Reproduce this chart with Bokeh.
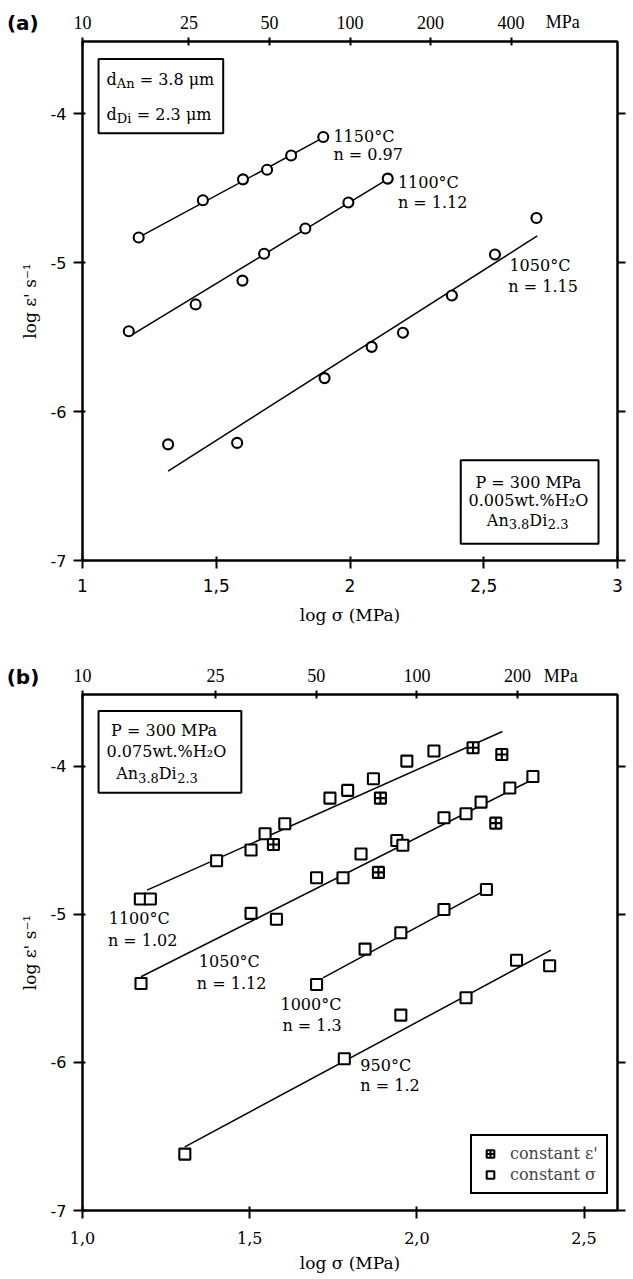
import math
from bokeh.plotting import figure
from bokeh.models import (LinearAxis, FixedTicker, Range1d, Label, BoxAnnotation,
                          Legend, LegendItem)
from bokeh.layouts import column
from bokeh.embed import file_html
from bokeh.resources import INLINE

SERIF = "DejaVu Serif"
SANS = "DejaVu Sans"
TOPF = "Liberation Serif"

# ---------------- data: panel (a) ----------------
a_1150_x = [1.21, 1.45, 1.60, 1.69, 1.78, 1.90]
a_1150_y = [-4.83, -4.58, -4.44, -4.375, -4.28, -4.155]
a_1100_x = [1.173, 1.423, 1.598, 1.679, 1.833, 1.994, 2.141]
a_1100_y = [-5.46, -5.28, -5.12, -4.94, -4.77, -4.595, -4.435]
a_1050_x = [1.32, 1.578, 1.905, 2.081, 2.198, 2.381, 2.542, 2.697]
a_1050_y = [-6.22, -6.21, -5.775, -5.565, -5.47, -5.22, -4.945, -4.70]
a_fit_1150_x = [1.22, 1.90]
a_fit_1150_y = [-4.82, -4.16]
a_fit_1100_x = [1.18, 2.13]
a_fit_1100_y = [-5.49, -4.45]
a_fit_1050_x = [1.32, 2.70]
a_fit_1050_y = [-6.40, -4.82]

# ---------------- data: panel (b) ----------------
b_1100_x = [1.173, 1.203, 1.401, 1.504, 1.546, 1.605, 1.740, 1.793, 1.870, 1.970, 2.051]
b_1100_y = [-4.896, -4.896, -4.637, -4.565, -4.455, -4.387, -4.214, -4.162, -4.083, -3.964, -3.896]
b_1100_ce_x = [1.571, 1.891, 2.168, 2.254]
b_1100_ce_y = [-4.527, -4.214, -3.874, -3.919]
b_1050_x = [1.175, 1.504, 1.58, 1.70, 1.779, 1.833, 1.94, 1.958, 2.081, 2.147, 2.192, 2.278, 2.347]
b_1050_y = [-5.466, -4.993, -5.032, -4.752, -4.752, -4.592, -4.50, -4.532, -4.347, -4.32, -4.241, -4.146, -4.068]
b_1050_ce_x = [1.885, 2.236]
b_1050_ce_y = [-4.716, -4.383]
b_1000_x = [1.70, 1.845, 1.952, 2.081, 2.208]
b_1000_y = [-5.473, -5.234, -5.124, -4.966, -4.831]
b_950_x = [1.306, 1.783, 1.952, 2.147, 2.298, 2.397]
b_950_y = [-6.619, -5.975, -5.68, -5.563, -5.309, -5.347]
b_fit_1100_x = [1.193, 2.256]
b_fit_1100_y = [-4.836, -3.764]
b_fit_1050_x = [1.175, 2.345]
b_fit_1050_y = [-5.421, -4.09]
b_fit_1000_x = [1.719, 2.20]
b_fit_1000_y = [-5.428, -4.842]
b_fit_950_x = [1.306, 2.401]
b_fit_950_y = [-6.57, -5.241]

# ---------------- ticks ----------------
top_a_mpa = [10, 25, 50, 100, 200, 400]
top_b_mpa = [10, 25, 50, 100, 200]
a_xticks = [1, 1.5, 2, 2.5, 3]
a_xlabels = ["1", "1,5", "2", "2,5", "3"]
b_xticks = [1.0, 1.5, 2.0, 2.5]
b_xlabels = ["1,0", "1,5", "2,0", "2,5"]
yticks = [-7, -6, -5, -4]
ylabels = ["-7", "-6", "-5", "-4"]

WIDTH = 633
LEFT = 82

# DejaVu Serif advance widths (em) for composing sub-scripted labels
W = {" ": 0.318, "=": 0.838, ".": 0.318, "A": 0.722, "n": 0.644, "d": 0.640,
     "D": 0.830, "i": 0.320, "μ": 0.659, "m": 0.948}
for c in "0123456789":
    W[c] = 0.636


def tw(s, size):
    return sum(W.get(c, 0.62) for c in s) * size


def rich(p, x, y, parts, align="left", size=16, sub=13):
    total = sum(tw(t, sub if s else size) for t, s in parts)
    off = 0 if align == "left" else -total / 2
    for t, s in parts:
        fs = sub if s else size
        lead = len(t) - len(t.lstrip(" "))
        off += lead * W[" "] * fs
        core = t.strip(" ")
        p.add_layout(Label(x=x, y=y, x_offset=off, y_offset=-4 if s else 0, text=core,
                           text_font=SERIF, text_font_size=f"{fs}px",
                           text_baseline="middle", text_align="left", text_color="black"))
        off += tw(core, fs)


def txt(p, x, y, t, align="left", font=SERIF, size=16, style="normal", place=None):
    lab = Label(x=x, y=y, text=t, text_font=font, text_font_size=f"{size}px",
                text_font_style=style, text_baseline="middle", text_align=align,
                text_color="black")
    if place:
        p.add_layout(lab, place)
    else:
        p.add_layout(lab)


def style_axis(ax, font, size, tin, tout, standoff):
    ax.axis_line_width = 2
    ax.axis_line_color = "black"
    ax.major_tick_line_width = 2
    ax.major_tick_line_color = "black"
    ax.major_tick_in = tin
    ax.major_tick_out = tout
    ax.minor_tick_line_color = None
    ax.major_label_text_font = font
    ax.major_label_text_font_size = f"{size}px"
    ax.major_label_standoff = standoff
    ax.major_label_text_color = "black"
    ax.axis_label_text_font = SERIF
    ax.axis_label_text_font_size = "17px"
    ax.axis_label_text_font_style = "normal"
    ax.axis_label_text_color = "black"


def header(height, xr, right, topvals, ytxt, tag, ytag, xtag, xmpa):
    """Strip above a panel holding the panel tag and the MPa scale numbers,
    sharing the panel's horizontal data range (frames are aligned in the column)."""
    h = figure(width=WIDTH, height=height, x_range=Range1d(*xr),
               y_range=Range1d(0, height), output_backend="svg",
               toolbar_location=None, tools="", min_border_left=LEFT,
               min_border_right=right, min_border_top=0, min_border_bottom=0,
               x_axis_type=None, y_axis_type=None)
    h.outline_line_color = None
    h.background_fill_color = "white"
    h.border_fill_color = "white"
    for v in topvals:
        t = math.log10(v)
        # numbers sitting on the frame edge go into the (unclipped) left panel
        place = "left" if t <= xr[0] else None
        txt(h, t, ytxt, str(v), align="center", font=TOPF, size=18, place=place)
    txt(h, xmpa, ytxt, "MPa", align="center", font=TOPF, size=18)
    txt(h, xtag, ytag, tag, align="center", font=SANS, size=20, style="bold", place="left")
    return h


def make_fig(height, top, bottom, right, xr, xticks, xlabels, xfont, topvals,
             xstand, xlab_stand, ylab_stand):
    p = figure(width=WIDTH, height=height, x_range=Range1d(*xr),
               y_range=Range1d(-7, -3.514),
               output_backend="svg", toolbar_location=None, tools="",
               min_border_left=LEFT, min_border_right=right, min_border_top=top,
               min_border_bottom=bottom)
    p.grid.visible = False
    p.outline_line_color = "black"
    p.outline_line_width = 2
    p.background_fill_color = "white"
    p.border_fill_color = "white"
    xa = p.xaxis[0]
    xa.ticker = FixedTicker(ticks=xticks)
    xa.major_label_overrides = dict(zip(xticks, xlabels))
    style_axis(xa, xfont, 16 if xfont == SERIF else 17, 4, 8, xstand)
    xa.axis_label = "log σ (MPa)"
    xa.axis_label_standoff = xlab_stand
    ya = p.yaxis[0]
    ya.ticker = FixedTicker(ticks=yticks)
    ya.major_label_overrides = dict(zip(yticks, ylabels))
    style_axis(ya, SANS, 16, 3, 9, 7)
    ya.axis_label = "log ε' s⁻¹"
    ya.axis_label_standoff = ylab_stand
    # top MPa axis (tick marks; its numbers are in the header strip)
    tv = [math.log10(v) for v in topvals]
    ta = LinearAxis(ticker=FixedTicker(ticks=tv))
    style_axis(ta, TOPF, 18, 4, 4, 0)
    ta.major_label_text_font_size = "0px"
    ta.major_label_text_color = None
    p.add_layout(ta, "above")
    ra = LinearAxis(ticker=FixedTicker(ticks=yticks))
    style_axis(ra, SANS, 16, 0, 8, 0)
    ra.major_label_text_font_size = "0px"
    ra.major_label_text_color = None
    p.add_layout(ra, "right")
    return p


# ================= panel (a) =================
ha = header(35, (1, 3), 14, top_a_mpa, 13.3, "(a)", 12.5, 0.777, 2.795)
pa = make_fig(613, 6, 88, 14, (1, 3), a_xticks, a_xlabels, SANS, top_a_mpa, 10, 10, 8)

for fx, fy in [(a_fit_1150_x, a_fit_1150_y), (a_fit_1100_x, a_fit_1100_y),
               (a_fit_1050_x, a_fit_1050_y)]:
    pa.line(fx, fy, line_color="black", line_width=1.5)
for sx, sy in [(a_1150_x, a_1150_y), (a_1100_x, a_1100_y), (a_1050_x, a_1050_y)]:
    pa.scatter(sx, sy, marker="circle", size=10, fill_color="white",
               line_color="black", line_width=2.1)

txt(pa, 1.938, -4.153, "1150°C")
txt(pa, 1.938, -4.276, "n = 0.97")
txt(pa, 2.179, -4.463, "1100°C")
txt(pa, 2.179, -4.597, "n = 1.12")
txt(pa, 2.596, -5.016, "1050°C")
txt(pa, 2.592, -5.157, "n = 1.15")

pa.add_layout(BoxAnnotation(left=1.06, right=1.526, bottom=-4.13, top=-3.632,
                            fill_color=None, line_color="black", line_alpha=1,
                            line_width=2))
rich(pa, 1.09, -3.772, [("d", 0), ("An", 1), (" = 3.8 μm", 0)])
rich(pa, 1.09, -4.007, [("d", 0), ("Di", 1), (" = 2.3 μm", 0)])

pa.add_layout(BoxAnnotation(left=2.414, right=2.929, bottom=-6.888, top=-6.327,
                            fill_color=None, line_color="black", line_alpha=1,
                            line_width=2))
txt(pa, 2.667, -6.473, "P = 300 MPa", align="center")
txt(pa, 2.667, -6.596, "0.005wt.%H₂O", align="center")
rich(pa, 2.664, -6.731, [("An", 0), ("3.8", 1), ("Di", 0), ("2.3", 1)], align="center")

# ================= panel (b) =================
hb = header(41, (1.0, 2.6), 16, top_b_mpa, 14, "(b)", 13, 0.822, 2.43)
pb = make_fig(590, 5, 69, 16, (1.0, 2.6), b_xticks, b_xlabels, SERIF, top_b_mpa, 13, 6, 8)

for fx, fy in [(b_fit_1100_x, b_fit_1100_y), (b_fit_1050_x, b_fit_1050_y),
               (b_fit_1000_x, b_fit_1000_y), (b_fit_950_x, b_fit_950_y)]:
    pb.line(fx, fy, line_color="black", line_width=1.5)
sq = []
for sx, sy in [(b_1100_x, b_1100_y), (b_1050_x, b_1050_y), (b_1000_x, b_1000_y),
               (b_950_x, b_950_y)]:
    sq.append(pb.scatter(sx, sy, marker="square", size=11, fill_color="white",
                         line_color="black", line_width=2.1))
ce = []
for sx, sy in [(b_1100_ce_x, b_1100_ce_y), (b_1050_ce_x, b_1050_ce_y)]:
    ce.append(pb.scatter(sx, sy, marker="square_cross", size=11, fill_color="white",
                         line_color="black", line_width=2.1))

txt(pb, 1.0785, -5.027, "1100°C")
txt(pb, 1.076, -5.173, "n = 1.02")
txt(pb, 1.348, -5.32, "1050°C")
txt(pb, 1.342, -5.466, "n = 1.12")
txt(pb, 1.592, -5.608, "1000°C")
txt(pb, 1.598, -5.748, "n = 1.3")
txt(pb, 1.831, -6.023, "950°C")
txt(pb, 1.831, -6.158, "n = 1.2")

pb.add_layout(BoxAnnotation(left=1.048, right=1.475, bottom=-4.178, top=-3.626,
                            fill_color=None, line_color="black", line_alpha=1,
                            line_width=2))
txt(pb, 1.244, -3.757, "P = 300 MPa", align="center")
txt(pb, 1.251, -3.896, "0.075wt.%H₂O", align="center")
rich(pb, 1.223, -4.05, [("An", 0), ("3.8", 1), ("Di", 0), ("2.3", 1)], align="center")

legend = Legend(items=[LegendItem(label="constant ε'", renderers=[ce[0]]),
                       LegendItem(label="constant σ", renderers=[sq[0]])],
                location=(388, 16), border_line_color="black", border_line_width=2,
                border_line_alpha=1,
                background_fill_color="white", padding=8, spacing=2, glyph_width=20,
                glyph_height=19, label_height=19, label_standoff=10, margin=0,
                label_text_font=SERIF, label_text_font_size="16px")
pb.add_layout(legend)

layout = column(ha, pa, hb, pb)
open("out.html", "w").write(file_html(layout, INLINE))
